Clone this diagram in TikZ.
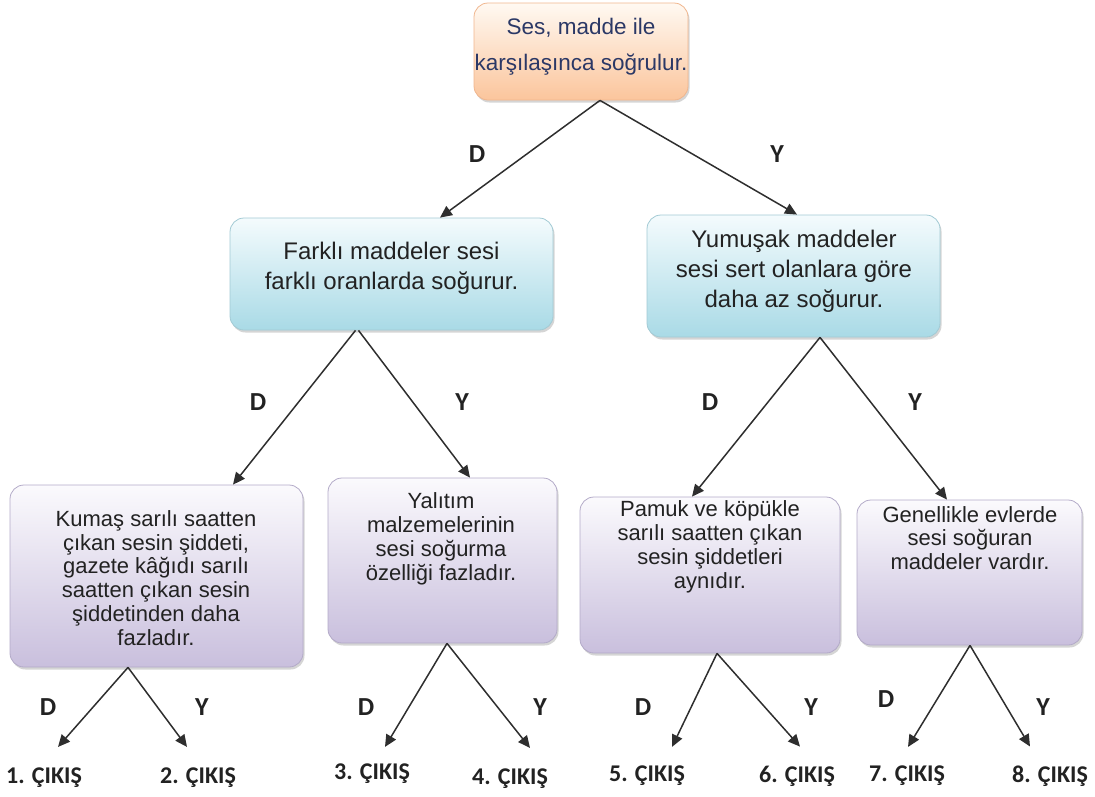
\documentclass[tikz,border=0pt]{standalone}
\usepackage{fontspec}
\setmainfont{Liberation Sans}
\newfontfamily\calibri{Carlito}
\usetikzlibrary{arrows.meta,shadows}

\definecolor{kokust}{HTML}{FFF9F2}
\definecolor{kokalt}{HTML}{FBC59C}
\definecolor{kokcizgi}{HTML}{F0B68E}
\definecolor{kokyazi}{HTML}{2B3866}
\definecolor{maviust}{HTML}{F4FBFD}
\definecolor{mavialt}{HTML}{A9DAE6}
\definecolor{mavicizgi}{HTML}{A2CAD4}
\definecolor{morust}{HTML}{FBFAFD}
\definecolor{moralt}{HTML}{C9BFDD}
\definecolor{morcizgi}{HTML}{B3AAC8}
\definecolor{yazi}{HTML}{222222}
\definecolor{okrengi}{HTML}{2E2E2E}

\begin{document}
\begin{tikzpicture}[x=1pt, y=-1pt,
  kutu/.style={draw, rounded corners=14pt, line width=0.8pt, inner sep=0pt,
    drop shadow={shadow xshift=1.5pt, shadow yshift=-2.5pt, opacity=0.3, fill=black!55}},
  kokkutu/.style={kutu, draw=kokcizgi, top color=kokust, bottom color=kokalt},
  mavikutu/.style={kutu, draw=mavicizgi, top color=maviust, bottom color=mavialt},
  morkutu/.style={kutu, draw=morcizgi, top color=morust, bottom color=moralt},
  kokmetin/.style={align=center, text=kokyazi, inner sep=0pt, font=\fontsize{22.5}{36}\selectfont},
  mavimetin/.style={align=center, text=yazi, inner sep=0pt, font=\fontsize{24}{30}\selectfont},
  mormetin/.style={align=center, text=yazi, inner sep=0pt, font=\fontsize{22}{23.8}\selectfont},
  okok/.style={-{Triangle[length=12pt, width=11pt]}, line width=1.5pt, draw=okrengi},
  dy/.style={text=yazi, inner sep=1pt, font=\calibri\bfseries\fontsize{26}{28}\selectfont},
  cikis/.style={text=yazi, inner sep=1pt, font=\calibri\bfseries\fontsize{24}{26}\selectfont},
]
\useasboundingbox (0,0) rectangle (1095,796);

% ── Root question ───────────────────────────────────────────────────────────
\node[kokkutu, minimum width=214pt, minimum height=97pt] (kok) at (581,51.5) {};
\node[kokmetin] (kokT) at (581,47) {Ses, madde ile\\karşılaşınca soğrulur.};

% ── Second level ────────────────────────────────────────────────────────────
\node[mavikutu, minimum width=323pt, minimum height=112pt] (farkli) at (391.5,274) {};
\node[mavimetin] (farkliT) at (391.5,268) {Farklı maddeler sesi\\farklı oranlarda soğurur.};
\node[mavikutu, minimum width=293pt, minimum height=122pt] (yumusak) at (793.5,276) {};
\node[mavimetin] (yumusakT) at (794,271) {Yumuşak maddeler\\sesi sert olanlara göre\\daha az soğurur.};

% ── Third level ─────────────────────────────────────────────────────────────
\node[morkutu, minimum width=293pt, minimum height=182pt] (kumas) at (156.5,576) {};
\node[mormetin] (kumasT) at (156,578) {Kumaş sarılı saatten\\çıkan sesin şiddeti,\\gazete kâğıdı sarılı\\saatten çıkan sesin\\şiddetinden daha\\fazladır.};
\node[morkutu, minimum width=229pt, minimum height=165pt] (yalitim) at (442.5,560.5) {};
\node[mormetin] (yalitimT) at (441,539) {Yalıtım\\malzemelerinin\\sesi soğurma\\özelliği fazladır.};
\node[morkutu, minimum width=260pt, minimum height=156pt] (pamuk) at (710,575) {};
\node[mormetin] (pamukT) at (710,547) {Pamuk ve köpükle\\sarılı saatten çıkan\\sesin şiddetleri\\aynıdır.};
\node[morkutu, minimum width=225pt, minimum height=145pt] (evler) at (969.5,572.5) {};
\node[mormetin] (evlerT) at (970,538) {Genellikle evlerde\\sesi soğuran\\maddeler vardır.};

% ── Outputs ─────────────────────────────────────────────────────────────────
\node[cikis] (c1) at (44,778) {1. ÇIKIŞ};
\node[cikis] (c2) at (198,778) {2. ÇIKIŞ};
\node[cikis] (c3) at (372,774) {3. ÇIKIŞ};
\node[cikis] (c4) at (510,779) {4. ÇIKIŞ};
\node[cikis] (c5) at (647,776) {5. ÇIKIŞ};
\node[cikis] (c6) at (797,776) {6. ÇIKIŞ};
\node[cikis] (c7) at (907,776) {7. ÇIKIŞ};
\node[cikis] (c8) at (1050,776) {8. ÇIKIŞ};

% ── Arrows ──────────────────────────────────────────────────────────────────
\draw[okok] ([xshift=19pt]kok.south) -- ([xshift=48.5pt]farkli.north);
\draw[okok] ([xshift=19pt]kok.south) -- ([xshift=3.5pt]yumusak.north);

\draw[okok] ([xshift=-36pt]farkli.south) -- ([xshift=76.5pt]kumas.north);
\draw[okok] ([xshift=-33pt]farkli.south) -- ([xshift=27.5pt]yalitim.north);
\draw[okok] ([xshift=26.5pt]yumusak.south) -- ([xshift=-18pt]pamuk.north);
\draw[okok] ([xshift=26.5pt]yumusak.south) -- ([xshift=-22.5pt]evler.north);

\draw[okok] ([xshift=-28.5pt]kumas.south) -- ([xshift=14pt, yshift=20pt]c1.north);
\draw[okok] ([xshift=-28.5pt]kumas.south) -- ([xshift=-11pt, yshift=20pt]c2.north);
\draw[okok] ([xshift=4.5pt]yalitim.south) -- ([xshift=13pt, yshift=16pt]c3.north);
\draw[okok] ([xshift=4.5pt]yalitim.south) -- ([xshift=20pt, yshift=20pt]c4.north);
\draw[okok] ([xshift=7pt]pamuk.south) -- ([xshift=25pt, yshift=18pt]c5.north);
\draw[okok] ([xshift=7pt]pamuk.south) -- ([xshift=3pt, yshift=18pt]c6.north);
\draw[okok] ([xshift=0.5pt]evler.south) -- ([xshift=1pt, yshift=18pt]c7.north);
\draw[okok] ([xshift=0.5pt]evler.south) -- ([xshift=-20pt, yshift=18pt]c8.north);

% ── D / Y labels ────────────────────────────────────────────────────────────
\node[dy] (d1) at (477,154) {D};
\node[dy] (y1) at (777,154) {Y};
\node[dy] (d2) at (258,402) {D};
\node[dy] (y2) at (462,402) {Y};
\node[dy] (d3) at (710,402) {D};
\node[dy] (y3) at (915,402) {Y};
\node[dy] (d4) at (48,707) {D};
\node[dy] (y4) at (202,707) {Y};
\node[dy] (d5) at (366,707) {D};
\node[dy] (y5) at (540,707) {Y};
\node[dy] (d6) at (643,707) {D};
\node[dy] (y6) at (811,707) {Y};
\node[dy] (d7) at (886,699) {D};
\node[dy] (y7) at (1043,707) {Y};

\end{tikzpicture}
\end{document}
